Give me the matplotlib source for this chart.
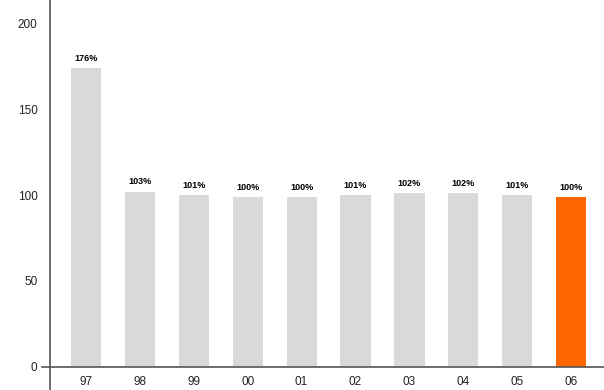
import matplotlib
matplotlib.use("Agg")
import matplotlib.pyplot as plt

years = ["97", "98", "99", "00", "01", "02", "03", "04", "05", "06"]
values = [174, 102, 100, 99, 99, 100, 101, 101, 100, 99]
labels = ["176%", "103%", "101%", "100%", "100%", "101%", "102%", "102%", "101%", "100%"]
yticks = [0, 50, 100, 150, 200]

plt.rcParams['font.family'] = ['Liberation Sans', 'DejaVu Sans']
fig = plt.figure(figsize=(6.04, 3.90), dpi=100)
ax = fig.add_axes([50/604, 0, 554/604, 1])
colors = ["#d9d9d9"] * 9 + ["#ff6600"]
x = list(range(len(years)))
ax.bar(x, values, width=0.56, color=colors, zorder=2)
ax.set_xlim(-0.668, 9.61)
ax.set_ylim(-13.4, 213.4)
for xi, v, lab in zip(x, values, labels):
    ax.text(xi, v + 3, lab, ha='center', va='bottom', fontsize=6.5, fontweight='bold', color='black')
    pass
for xi, yr in zip(x, years):
    ax.text(xi, -5, yr, ha='center', va='top', fontsize=8.5, color='#222222')
ax.axhline(0, xmin=-0.015, xmax=1, color='#555555', lw=1.2, clip_on=False, zorder=3)
for s in ['top', 'right', 'bottom']:
    ax.spines[s].set_visible(False)
ax.spines['left'].set_color('#555555')
ax.spines['left'].set_linewidth(1.2)
ax.set_xticks([])
ax.set_yticks(yticks)
ax.set_yticklabels([str(t) for t in yticks], fontsize=8.5, color='#222222')
ax.tick_params(axis='y', length=0, pad=9)
fig.savefig("out.png", dpi=100)
